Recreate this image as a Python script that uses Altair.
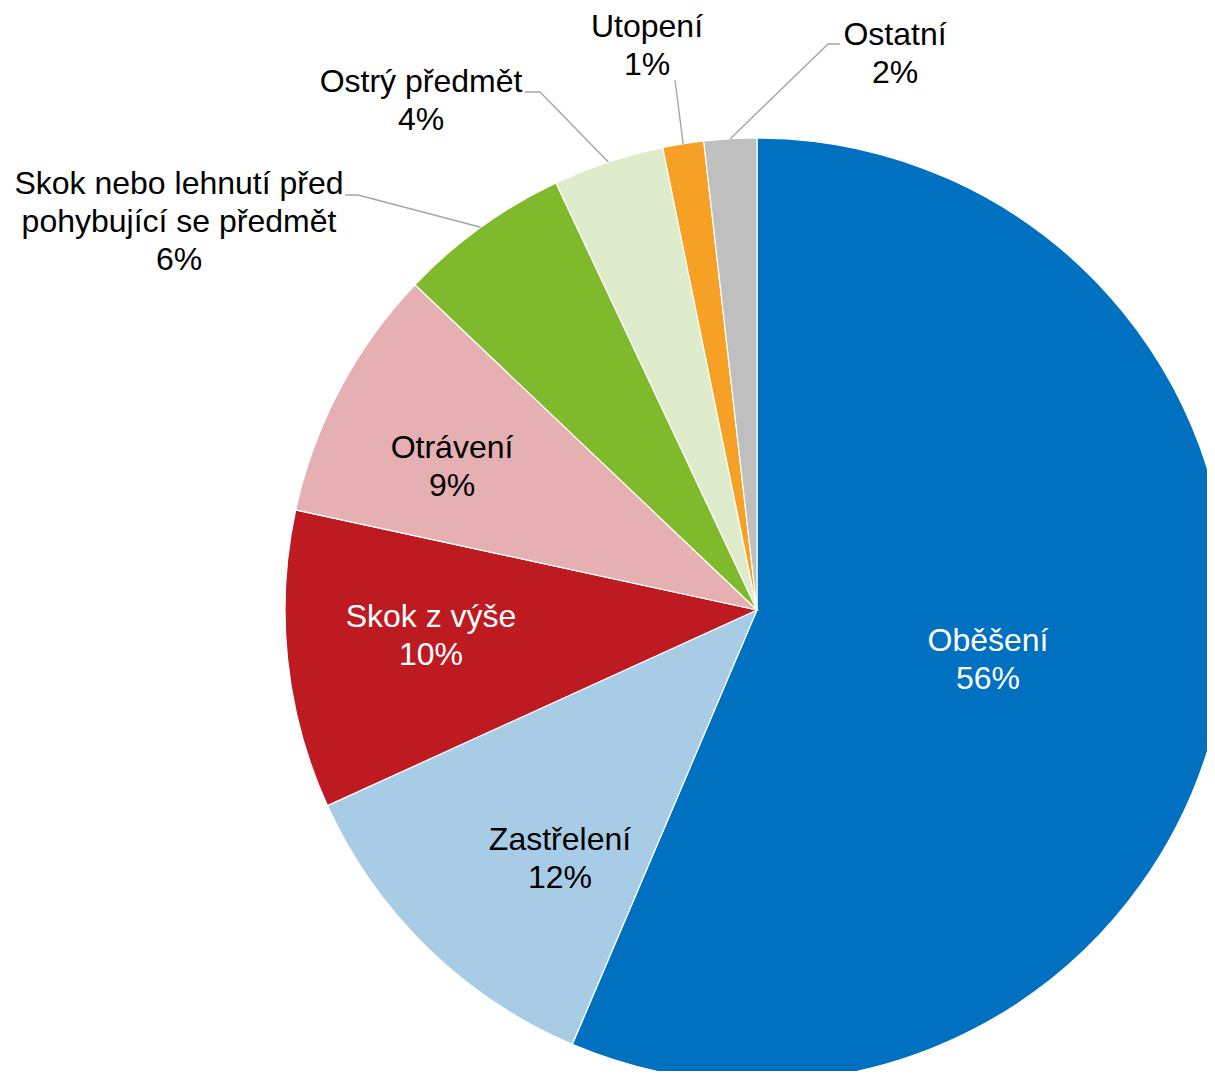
import math
import altair as alt
import pandas as pd

# ---- data ----
categories = ["Oběšení", "Zastřelení", "Skok z výše", "Otrávení",
              "Skok nebo lehnutí před pohybující se předmět",
              "Ostrý předmět", "Utopení", "Ostatní"]
shares = [56.4, 11.8, 10.2, 8.7, 5.9, 3.8, 1.4, 1.8]
label_lines = [["Oběšení"], ["Zastřelení"], ["Skok z výše"], ["Otrávení"],
               ["Skok nebo lehnutí před", "pohybující se předmět"],
               ["Ostrý předmět"], ["Utopení"], ["Ostatní"]]

# ---- styles ----
colors = ["#0070C0", "#A9CCE6", "#BE1A22", "#E6AFB2",
          "#7FBA2C", "#DFECCB", "#F6A025", "#BFBFBF"]
text_colors = ["#FFFFFF", "#000000", "#FFFFFF", "#000000",
               "#000000", "#000000", "#000000", "#000000"]
FONT_SIZE, LINE_H = 32, 38

# ---- layout (pixels, relative to pie centre) ----
CX, CY, R = 749, 602, 472
label_offsets = [(231, 50), (-197, 249), (-326, 26), (-305, -143),
                 (-578, -388), (-336, -509), (-110, -564), (138, -556)]
leader_anchor = {4: [(-412, -415), (-399, -415)],
                 5: [(-232, -518), (-217, -518)],
                 6: [(-82, -530)],
                 7: [(83, -566), (71, -566)]}

df = pd.DataFrame({"cat": categories, "share": shares, "idx": range(len(categories))})

# label table (y of first line so that the block is centred on the offset)
total = sum(shares)
rows = []
for i, c in enumerate(categories):
    pct = round(shares[i] / total * 100)
    parts = label_lines[i] + [f"{pct}%"]
    dx, dy = label_offsets[i]
    y0 = CY + dy - (len(parts) - 1) * LINE_H / 2
    rows.append({"cat": c, "txt": "\n".join(parts), "px": CX + dx, "py": y0,
                 "tc": text_colors[i]})
labels = pd.DataFrame(rows)

# leader lines: from anchor near label to slice edge at mid-angle
cum = 0.0
lrows = []
for i, s in enumerate(shares):
    mid = (cum + s / 2) / total * 2 * math.pi
    cum += s
    if i in leader_anchor:
        pts = [(CX + a, CY + b) for a, b in leader_anchor[i]]
        pts.append((CX + R * math.sin(mid), CY - R * math.cos(mid)))
        for k, (x, y) in enumerate(pts):
            lrows.append({"cat": categories[i], "k": k, "px": x, "py": y})
lines = pd.DataFrame(lrows)

pie = alt.Chart(df).mark_arc(outerRadius=R, stroke="white", strokeWidth=1.2).encode(
    theta=alt.Theta("share:Q", stack=True),
    color=alt.Color("cat:N", scale=alt.Scale(domain=categories, range=colors), legend=None),
    order=alt.Order("idx:Q"),
    x=alt.value(CX),
    y=alt.value(CY),
)

leaders = alt.Chart(lines).mark_line(color="#A6A6A6", strokeWidth=1.4).encode(
    x=alt.X("px:Q", scale=None, axis=None),
    y=alt.Y("py:Q", scale=None, axis=None),
    detail="cat:N",
    order="k:Q",
)

text = alt.Chart(labels).mark_text(
    font="Liberation Sans", fontSize=FONT_SIZE, lineBreak="\n", lineHeight=LINE_H,
    align="center", baseline="middle",
).encode(
    x=alt.X("px:Q", scale=None, axis=None),
    y=alt.Y("py:Q", scale=None, axis=None),
    text="txt:N",
    color=alt.Color("tc:N", scale=None),
)

chart = alt.layer(pie, leaders, text).properties(
    width=1199, height=1063, padding=0,
    autosize=alt.AutoSizeParams(type="none"),
).configure_view(stroke=None)

chart.save("out.html", embed_options={"renderer": "svg", "actions": False})
